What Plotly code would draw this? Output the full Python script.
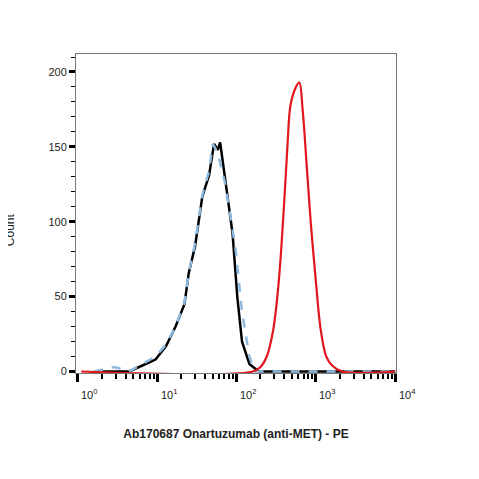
import plotly.graph_objects as go

# Histogram traces (fluorescence intensity, count)
black_x = [2.0, 4.4, 6.5, 9.5, 12.9, 17, 22, 25, 30, 37, 45, 52, 58, 62, 72, 89, 102, 117, 145, 190, 10000]
black_y = [0, 0, 4, 8, 17, 30, 45, 66, 84, 117, 131, 152, 148, 153, 128, 92, 50, 20, 5, 0, 0]

blue_x = [1.6, 2.9, 4.4, 6.5, 9.5, 12.9, 17, 22, 25, 30, 37, 45, 50, 58, 72, 89, 98, 117, 145, 170, 10000]
blue_y = [0, 3, 0, 5, 10, 18, 30, 46, 66, 86, 118, 134, 152, 146, 125, 95, 80, 40, 10, 0, 0]

red_x = [1.1, 160, 200, 240, 290, 340, 390, 437, 479, 550, 617, 680, 760, 860, 1000, 1150, 1350, 1600, 2138, 10000]
red_y = [0, 0, 3, 10, 28, 60, 105, 150, 178, 189, 193, 175, 140, 100, 60, 28, 10, 4, 0, 0]

decades = [0, 1, 2, 3, 4]

fig = go.Figure()
fig.add_trace(go.Scatter(x=black_x, y=black_y, mode="lines", line=dict(color="black", width=2.5)))
fig.add_trace(go.Scatter(x=blue_x, y=blue_y, mode="lines",
                         line=dict(color="#8fbbe0", width=2.5, dash="dash")))
fig.add_trace(go.Scatter(x=red_x, y=red_y, mode="lines", line=dict(color="#e0161c", width=2.2, shape="spline")))

minor_vals = [m * 10 ** d for d in range(0, 4) for m in range(2, 10)]

fig.update_xaxes(type="log", range=[-0.025, 4.01], tickvals=[10 ** d for d in decades],
                 showticklabels=False, ticks="outside", ticklen=8, tickwidth=2.5, tickcolor="black",
                 minor=dict(tickvals=minor_vals, ticks="outside", ticklen=5, tickwidth=1.5, tickcolor="black"),
                 showgrid=False, showline=True, mirror=True, linecolor="#777", linewidth=1, zeroline=False)
fig.update_yaxes(range=[-1, 212], tickvals=[0, 50, 100, 150, 200], ticks="outside", ticklen=6,
                 tickwidth=2.5, tickcolor="black", minor=dict(dtick=10, ticks="outside", ticklen=4, tickwidth=1),
                 tickfont=dict(size=11, color="#222"), showgrid=False, showline=True, mirror=True,
                 linecolor="#777", linewidth=1, zeroline=False)

for d in decades:
    fig.add_annotation(x=d, y=0, yref="paper", yanchor="top", yshift=-12, xshift=12,
                       text=f"10<sup>{d}</sup>", showarrow=False, font=dict(size=11, color="#222"))

fig.add_annotation(x=-0.232, y=0.45, xref="paper", yref="paper", text="Count", textangle=-90,
                   showarrow=False, font=dict(size=12, color="#222"))

fig.update_layout(
    width=479, height=479, margin=dict(l=68, r=91, t=46, b=114),
    plot_bgcolor="white", paper_bgcolor="white", showlegend=False,
    font=dict(family="Liberation Sans, Arial, sans-serif"),
    xaxis_title=dict(text="<b>Ab170687 Onartuzumab (anti-MET) - PE</b>", standoff=48,
                     font=dict(size=12, color="#222")),
)

fig.write_html("out.html")
